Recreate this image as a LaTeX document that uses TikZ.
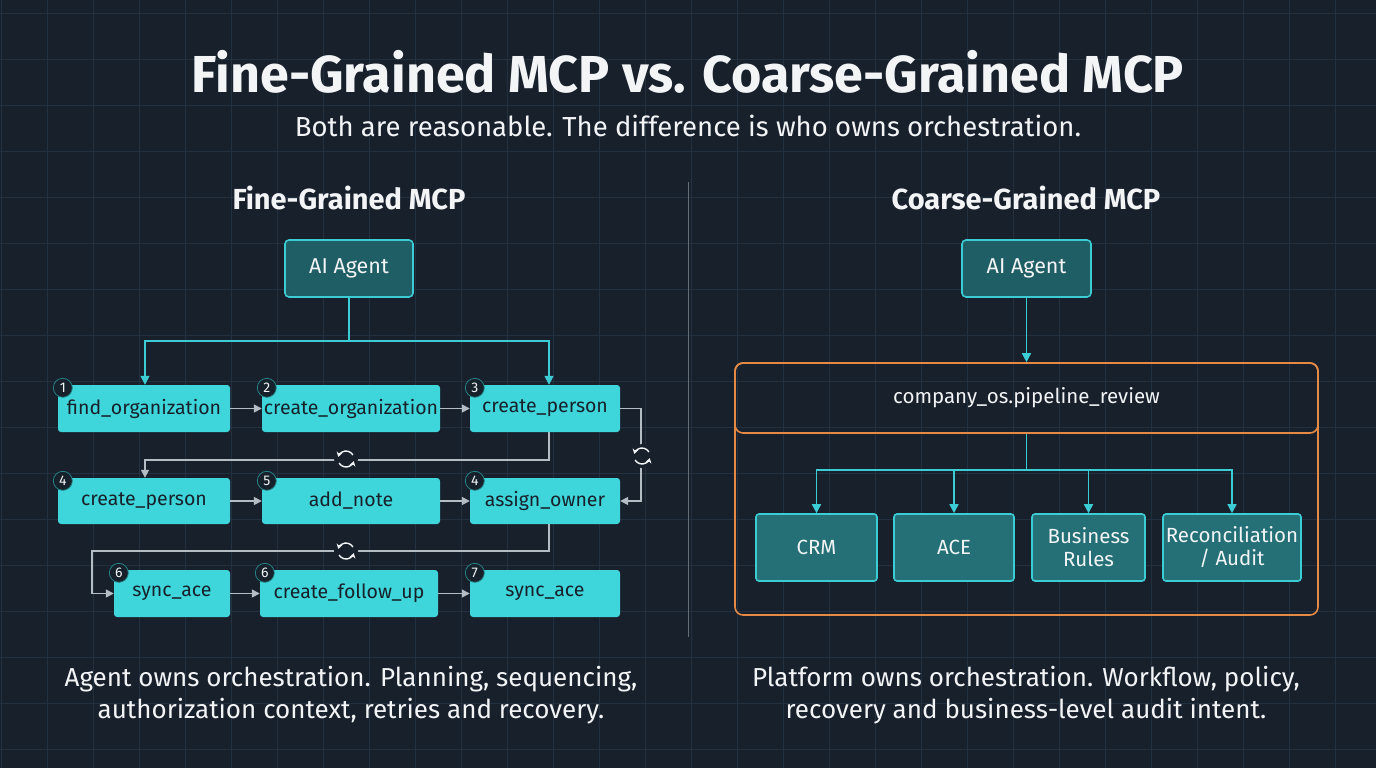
\documentclass[tikz,border=0pt]{standalone}
\usepackage{fontspec}
\setmainfont{Fira Sans}
\usetikzlibrary{arrows.meta}
\definecolor{bg}{HTML}{18202C}
\definecolor{gridc}{HTML}{223040}
\definecolor{cyanf}{HTML}{3ED6DA}
\definecolor{tealf}{HTML}{1F5E64}
\definecolor{tealb}{HTML}{3CCDD4}
\definecolor{boxt}{HTML}{17212B}
\definecolor{conn}{HTML}{B4BCC4}
\definecolor{orng}{HTML}{E58A45}
\definecolor{txt}{HTML}{F2F4F6}
\tikzset{
 tool/.style={fill=cyanf,draw=none,rounded corners=3pt,text=boxt,font=\fontsize{19.5}{22}\selectfont,inner sep=0pt},
 agent/.style={fill=tealf,draw=tealb,line width=1.6pt,rounded corners=4pt,text=txt,font=\fontsize{21.5}{24}\selectfont,inner sep=0pt},
 sys/.style={fill=tealf!85!cyanf,draw=tealb,line width=1.6pt,rounded corners=3pt,text=txt,font=\fontsize{20.5}{23}\selectfont,align=center,inner sep=0pt},
 badge/.style={circle,fill=boxt,draw=cyanf!60!black,line width=0.8pt,text=txt,font=\fontsize{14}{15}\selectfont,inner sep=0pt,minimum size=19pt},
 garr/.style={draw=conn,line width=1.5pt,-{Triangle[length=8pt,width=8pt]}},
 carr/.style={draw=tealb,line width=1.5pt,-{Triangle[length=9pt,width=9pt]}},
 big/.style={text=txt},
}
\newcommand{\refr}[1]{%
 \fill[bg] (#1) circle (12pt);
 \draw[txt,line width=1.4pt,-{Stealth[length=5pt,width=6pt]}] ([shift={(30:8pt)}]#1) arc (30:165:8pt);
 \draw[txt,line width=1.4pt,-{Stealth[length=5pt,width=6pt]}] ([shift={(210:8pt)}]#1) arc (210:345:8pt);}
\begin{document}
\begin{tikzpicture}[x=1pt,y=-1pt]
\fill[bg] (0,0) rectangle (1376,768);
\useasboundingbox (0,0) rectangle (1376,768);
\foreach \i in {0,...,30} \draw[gridc,line width=0.8pt] (\i*46+1,0) -- (\i*46+1,768);
\foreach \j in {0,...,17} \draw[gridc,line width=0.8pt] (0,\j*46+13) -- (1376,\j*46+13);
\draw[gridc!70!white,line width=1pt] (688,182) -- (688,637);
% titles
\node[big,font=\fontsize{52}{58}\selectfont\bfseries] (title) at (688,72) {Fine-Grained MCP vs. Coarse-Grained MCP};
\node[big,font=\fontsize{27.5}{32}\selectfont] (sub) at (688,126) {Both are reasonable. The difference is who owns orchestration.};
\node[big,font=\fontsize{29}{34}\selectfont\bfseries] (hl) at (349,198) {Fine-Grained MCP};
\node[big,font=\fontsize{29}{34}\selectfont\bfseries] (hr) at (1026,198) {Coarse-Grained MCP};
\node[big,font=\fontsize{26}{32}\selectfont,align=center] (bl) at (351,695) {Agent owns orchestration. Planning, sequencing,\\authorization context, retries and recovery.};
\node[big,font=\fontsize{26}{32}\selectfont,align=center] (br) at (1026,695) {Platform owns orchestration. Workflow, policy,\\recovery and business-level audit intent.};
% left
\node[agent,minimum width=128pt,minimum height=57pt] (aL) at (349,268.5) {AI Agent};
\node[tool,minimum width=172pt,minimum height=47pt] (s1) at (144,408.5) {find\_organization};
\node[tool,minimum width=178pt,minimum height=47pt] (s2) at (351,408.5) {create\_organization};
\node[tool,minimum width=150pt,minimum height=47pt] (s3) at (545,408.5) {create\_person};
\node[tool,minimum width=172pt,minimum height=46pt] (s4) at (144,501) {create\_person};
\node[tool,minimum width=178pt,minimum height=46pt] (s5) at (351,501) {add\_note};
\node[tool,minimum width=150pt,minimum height=46pt] (s6) at (545,501) {assign\_owner};
\node[tool,minimum width=116pt,minimum height=47pt] (s7) at (172,593.5) {sync\_ace};
\node[tool,minimum width=178pt,minimum height=47pt] (s8) at (349,593.5) {create\_follow\_up};
\node[tool,minimum width=150pt,minimum height=47pt] (s9) at (545,593.5) {sync\_ace};
\foreach \n/\l in {s1/1,s2/2,s3/3,s4/4,s5/5,s6/4,s7/6,s8/6,s9/7}
  \node[badge] at ([shift={(5pt,-3pt)}]\n.north west) {\l};
\coordinate (jL) at (349,341);
\draw[tealb,line width=1.5pt] (aL.south) -- (jL);
\draw[carr] (jL) -| (s1.north -| 145,0);
\draw[carr] (jL) -| (s3.north -| 549,0);
\draw[garr] (s1) -- (s2);
\draw[garr] (s2) -- (s3);
\draw[garr] (s4) -- (s5);
\draw[garr] (s5) -- (s6);
\draw[garr] (s7) -- (s8);
\draw[garr] (s8) -- (s9);
\draw[garr] (s3.south -| 549,0) |- (145,460) -- (s4.north -| 145,0);
\draw[garr] (s3.east) -- (641,408.5) |- (s6.east);
\draw[garr] (s6.south -| 549,0) |- (92,551) |- (s7.west);
\refr{346,459}
\refr{642,456}
\refr{346,551}
% right
\node[agent,minimum width=129pt,minimum height=57pt] (aR) at (1026.5,268.5) {AI Agent};
\draw[orng,line width=1.6pt,rounded corners=8pt] (735,363) rectangle (1318,615);
\node[draw=orng,line width=1.6pt,rounded corners=8pt,minimum width=583pt,minimum height=70pt,text=txt,font=\fontsize{20.5}{24}\selectfont,inner sep=0pt] (pr) at (1026.5,398) {company\_os.pipeline\_review};
\draw[carr] (aR.south) -- (pr.north);
\node[sys,minimum width=121pt,minimum height=67pt] (c1) at (816.5,547.5) {CRM};
\node[sys,minimum width=120pt,minimum height=67pt] (c2) at (954,547.5) {ACE};
\node[sys,minimum width=113pt,minimum height=67pt] (c3) at (1088.5,547.5) {Business\\Rules};
\node[sys,minimum width=138pt,minimum height=67pt] (c4) at (1232,547.5) {Reconciliation\\/ Audit};
\coordinate (jR) at (1026.5,470);
\draw[tealb,line width=1.5pt] (pr.south) -- (jR);
\foreach \c in {c1,c2,c3,c4} \draw[carr] (jR) -| (\c.north);
\end{tikzpicture}
\end{document}
